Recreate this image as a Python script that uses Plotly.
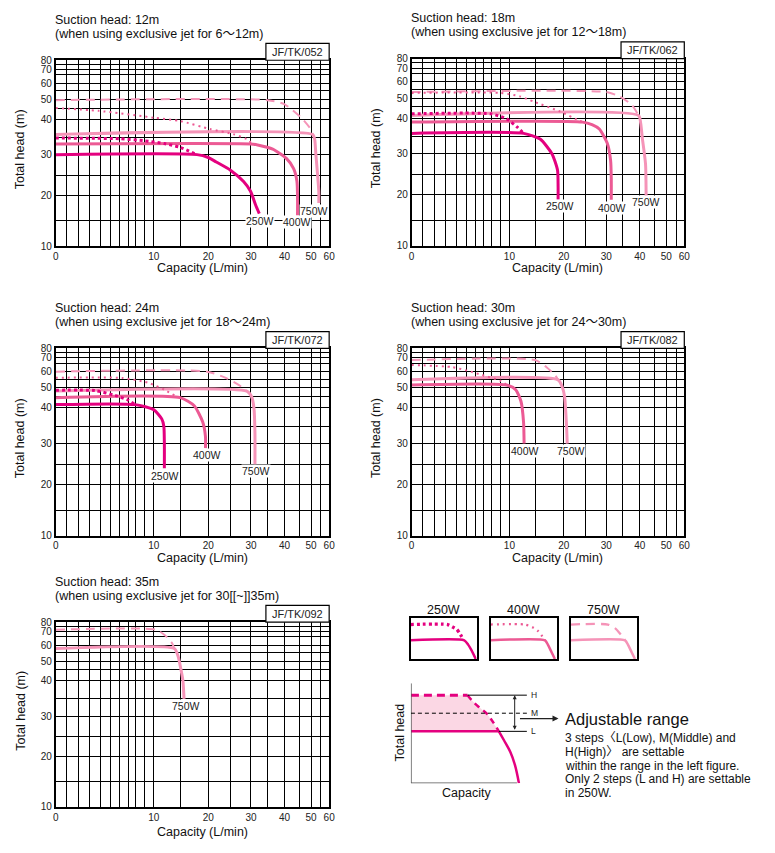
import numpy as np
import plotly.graph_objects as go

W, H = 775, 853
FONT = "Liberation Sans, Arial, Noto Sans CJK JP, sans-serif"

# ---------- axis scales (value -> fraction of plot box) ----------
X_GRID = [0, 1, 2, 3, 4, 5, 6, 7, 8, 9, 10, 15, 20, 25, 30, 35, 40, 45, 50, 55, 60]
X_FRAC = [0, .040, .085, .124, .165, .202, .233, .265, .293, .325, .359, .455, .558,
          .639, .714, .775, .837, .892, .934, .970, 1]
Y_GRID = [10, 15, 20, 25, 30, 35, 40, 45, 50, 55, 60, 65, 70, 75, 80]
Y_FRAC = [0, .137, .273, .382, .492, .585, .682, .742, .789, .835, .876, .921, .949, .977, 1]
X_TICKS = [0, 10, 20, 30, 40, 50, 60]
Y_TICKS = [10, 20, 30, 40, 50, 60, 70, 80]

C250, C400, C750 = "#E4007F", "#EC5A94", "#F594B8"

# ---------- data: capacity Q (L/min) and total head (m) ----------
# Suction head 12m
S12_250_L_Q = [0, 18, 20, 21.8, 25, 28.2, 29.9, 31.4, 32.5]
S12_250_L_H = [30, 30, 29.3, 28.2, 26.2, 23.4, 21, 18.1, 16.4]
S12_250_H_Q = [0, 6, 9, 12, 15, 18]
S12_250_H_H = [34.8, 34.6, 34, 33.2, 32.1, 30]
S12_400_L_Q = [0, 30, 32, 36.5, 40.6, 43, 44.1, 44.3, 44.3]
S12_400_L_H = [33.1, 33.1, 32.8, 31.6, 29.1, 26.6, 23.5, 20, 16]
S12_400_H_Q = [0, 3.8, 10.1, 15.1, 20.4, 25.7, 29.6, 30]
S12_400_H_H = [45.1, 43.8, 40.7, 39.5, 37.3, 35.9, 34.1, 33.1]
S12_750_L_Q = [0, 50.8, 51.8, 52.4, 53.3, 53.9, 53.9]
S12_750_L_H = [35.8, 35.8, 34.5, 30.2, 25, 21, 18.5]
S12_750_H_Q = [0, 35, 40, 46.4, 50, 50.8]
S12_750_H_H = [49.6, 49.6, 47.2, 40, 37.1, 35.8]
# Suction head 18m
S18_250_L_Q = [0, 12.7, 15.8, 17.9, 18.9, 19, 19]
S18_250_L_H = [35.8, 35.8, 34.2, 30, 26, 22, 19]
S18_250_H_Q = [0, 7.9, 9.7, 11.5, 12.7]
S18_250_H_H = [41.9, 41.9, 39.8, 37.5, 35.8]
S18_400_L_Q = [0, 24.3, 26.5, 28.3, 30.3, 31.3, 31.5, 31.5]
S18_400_L_H = [38.9, 38.9, 38.2, 37, 33, 28.4, 24, 19]
S18_400_H_Q = [0, 9, 12, 14.6, 19.3, 23.5, 24.3]
S18_400_H_H = [53, 53, 51, 48, 43, 39.3, 38.9]
S18_750_L_Q = [0, 39.6, 40.3, 40.8, 41.9, 42.1]
S18_750_L_H = [41.2, 41.2, 38.5, 34.7, 27.5, 19]
S18_750_H_Q = [0, 30, 33.9, 37.7, 39.6]
S18_750_H_H = [53.5, 53.5, 51, 46, 41.2]
# Suction head 24m
S24_250_L_Q = [0, 7.9, 10, 11.5, 11.9, 12, 12]
S24_250_L_H = [41.5, 41.5, 39.5, 37, 35, 30, 24]
S24_250_H_Q = [0, 3.5, 5.5, 7, 7.9]
S24_250_H_H = [48.7, 48.5, 45.7, 43.5, 41.5]
S24_400_L_Q = [0, 15, 17.5, 19, 19.5, 19.5]
S24_400_L_H = [44.6, 44.6, 41, 36.2, 32, 28.9]
S24_400_H_Q = [0, 6.3, 9.4, 12, 14, 15]
S24_400_H_H = [56, 55.9, 53, 49, 45.6, 44.6]
S24_750_L_Q = [0, 29, 30.2, 30.9, 31.2, 31.2]
S24_750_L_H = [48.2, 48.2, 45, 40, 33, 25]
S24_750_H_Q = [0, 19.8, 24.3, 27.5, 29]
S24_750_H_H = [60, 60, 55.5, 51, 48.2]
# Suction head 30m
S30_400_L_Q = [0, 9.7, 11.2, 12.2, 12.7, 12.8]
S30_400_L_H = [51.7, 51.7, 49, 43, 36, 30]
S30_400_H_Q = [0, 3.6, 5.5, 6.7, 9, 9.7]
S30_400_H_H = [64, 62.7, 60, 58, 54.2, 51.7]
S30_750_L_Q = [0, 19, 19.8, 20.2, 20.6, 20.8]
S30_750_L_H = [54.7, 54.7, 50, 45, 36, 30]
S30_750_H_Q = [0, 14.9, 17, 18.5, 19]
S30_750_H_H = [68, 68, 62.5, 57.5, 54.7]
# Suction head 35m
S35_750_L_Q = [0, 13.9, 14.6, 15.1, 15.5, 15.7]
S35_750_L_H = [57.7, 57.7, 53, 46, 40, 35]
S35_750_H_Q = [0, 10.4, 12.1, 13.5, 13.9]
S35_750_H_H = [71.8, 71.8, 66.5, 61, 57.7]

# legend swatches (normalised box units)
LEG250_H_X = [0, 0.56, 0.64, 0.70, 0.74, 0.77, 0.80]
LEG250_H_Y = [0.84, 0.84, 0.776, 0.72, 0.632, 0.552, 0.472]
LEG250_L_X = [0, 0.812, 0.87, 0.92, 0.985]
LEG250_L_Y = [0.456, 0.456, 0.35, 0.216, 0]
LEG400_H_X = [0, 0.52, 0.644, 0.718, 0.777, 0.817]
LEG400_H_Y = [0.84, 0.84, 0.76, 0.672, 0.552, 0.456]
LEG400_L_X = [0, 0.817, 0.86, 0.901, 0.965]
LEG400_L_Y = [0.456, 0.456, 0.35, 0.216, 0]
LEG750_H_X = [0, 0.56, 0.678, 0.75, 0.817]
LEG750_H_Y = [0.84, 0.84, 0.736, 0.6, 0.456]
LEG750_L_X = [0, 0.817, 0.86, 0.901, 0.965]
LEG750_L_Y = [0.456, 0.456, 0.35, 0.216, 0]

# adjustable-range schematic
DIAG_CURVE_X = [57.3, 62.3, 69, 77.3, 89, 94.3, 100.6, 105.3, 109.3]
DIAG_CURVE_Y = [89.3, 83.3, 77, 70, 52.6, 43.3, 31.6, 18.3, 0]
DIAG_H, DIAG_M, DIAG_L = 89.3, 71, 52.6

STYLE = {
    "L": dict(width=3, dash="solid"),
    "H250": dict(width=3, dash="3px,3px"),
    "H400": dict(width=2, dash="2px,4px"),
    "H750": dict(width=2, dash="9px,6px"),
}

PANELS = [
    dict(idx=1, box=(53.3, 55, 330, 243.5), xlab_dy=22,
         title=("Suction head: 12m", "(when using exclusive jet for 6～12m)"), model="JF/TK/052",
         series=[(S12_750_H_Q, S12_750_H_H, C750, "H750"), (S12_750_L_Q, S12_750_L_H, C750, "L"),
                 (S12_400_H_Q, S12_400_H_H, C400, "H400"), (S12_400_L_Q, S12_400_L_H, C400, "L"),
                 (S12_250_H_Q, S12_250_H_H, C250, "H250"), (S12_250_L_Q, S12_250_L_H, C250, "L")],
         labels=[("250W", 260, 218), ("400W", 297, 219.5), ("750W", 315, 207.5)]),
    dict(idx=2, box=(413.3, 53.3, 689.3, 243.3), xlab_dy=22,
         title=("Suction head: 18m", "(when using exclusive jet for 12～18m)"), model="JF/TK/062",
         series=[(S18_750_H_Q, S18_750_H_H, C750, "H750"), (S18_750_L_Q, S18_750_L_H, C750, "L"),
                 (S18_400_H_Q, S18_400_H_H, C400, "H400"), (S18_400_L_Q, S18_400_L_H, C400, "L"),
                 (S18_250_H_Q, S18_250_H_H, C250, "H250"), (S18_250_L_Q, S18_250_L_H, C250, "L")],
         labels=[("250W", 564, 203), ("400W", 616, 205), ("750W", 651, 199)]),
    dict(idx=3, box=(53.3, 347.3, 330, 537.3), xlab_dy=22.5,
         title=("Suction head: 24m", "(when using exclusive jet for 18～24m)"), model="JF/TK/072",
         series=[(S24_750_H_Q, S24_750_H_H, C750, "H750"), (S24_750_L_Q, S24_750_L_H, C750, "L"),
                 (S24_400_H_Q, S24_400_H_H, C400, "H400"), (S24_400_L_Q, S24_400_L_H, C400, "L"),
                 (S24_250_H_Q, S24_250_H_H, C250, "H250"), (S24_250_L_Q, S24_250_L_H, C250, "L")],
         labels=[("250W", 164, 477), ("400W", 206, 455), ("750W", 256, 472)]),
    dict(idx=4, box=(413.3, 347.3, 689.3, 537.3), xlab_dy=22.5,
         title=("Suction head: 30m", "(when using exclusive jet for 24～30m)"), model="JF/TK/082",
         series=[(S30_750_H_Q, S30_750_H_H, C750, "H750"), (S30_750_L_Q, S30_750_L_H, C750, "L"),
                 (S30_400_H_Q, S30_400_H_H, C400, "H400"), (S30_400_L_Q, S30_400_L_H, C400, "L")],
         labels=[("400W", 528, 451), ("750W", 575, 451)]),
    dict(idx=5, box=(53.3, 625, 330, 812.3), xlab_dy=25,
         title=("Suction head: 35m", "(when using exclusive jet for 30[[~]]35m)"), model="JF/TK/092",
         series=[(S35_750_H_Q, S35_750_H_H, C750, "H750"), (S35_750_L_Q, S35_750_L_H, C750, "L")],
         labels=[("750W", 185, 710)]),
]


def fx(q):
    return np.interp(q, X_GRID, X_FRAC)


def fy(h):
    return np.interp(h, Y_GRID, Y_FRAC)


def dom_x(a, b):
    return [a / W, b / W]


def dom_y(top, bottom):
    return [1 - bottom / H, 1 - top / H]


def px(x):
    return x / W


def py(y):
    return 1 - y / H


def ax_names(i):
    s = "" if i == 1 else str(i)
    return "xaxis" + s, "yaxis" + s, "x" + s, "y" + s


fig = go.Figure()
layout = {}
annotations = []
shapes = []

GRID = dict(showgrid=True, gridcolor="black", gridwidth=1.2, showline=True, mirror=True,
            linecolor="black", linewidth=1.5, zeroline=False, ticks="", fixedrange=True,
            tickfont=dict(size=10, color="#222", family=FONT))

for p in PANELS:
    i = p["idx"]
    l, t, r, b = p["box"]
    xa, ya, xr, yr = ax_names(i)
    layout[xa] = dict(domain=dom_x(l, r), range=[0, 1], anchor=yr,
                      tickvals=list(fx(X_GRID)),
                      ticktext=[str(v) if v in X_TICKS else "" for v in X_GRID], **GRID)
    layout[ya] = dict(domain=dom_y(t, b), range=[0, 1], anchor=xr,
                      tickvals=list(fy(Y_GRID)),
                      ticktext=[str(v) if v in Y_TICKS else "" for v in Y_GRID], **GRID)
    for q, h, col, st in p["series"]:
        s = STYLE[st]
        fig.add_trace(go.Scatter(x=fx(q), y=fy(h), xaxis=xr, yaxis=yr, mode="lines",
                                 line=dict(color=col, width=s["width"], dash=s["dash"],
                                           shape="spline", smoothing=0.6),
                                 hoverinfo="skip", showlegend=False))
    for txt, lx, ly in p["labels"]:
        annotations.append(dict(text=txt, x=px(lx), y=py(ly), xref="paper", yref="paper",
                                showarrow=False, font=dict(size=10.5, color="#222", family=FONT),
                                bgcolor="white", borderpad=0, xanchor="center", yanchor="middle"))
    # titles
    annotations.append(dict(text=p["title"][0], x=px(l - 2.6), y=py(t - 41), xref="paper", yref="paper",
                            showarrow=False, xanchor="left", yanchor="middle",
                            font=dict(size=12.5, color="#111", family=FONT)))
    annotations.append(dict(text=p["title"][1], x=px(l - 2.6), y=py(t - 27), xref="paper", yref="paper",
                            showarrow=False, xanchor="left", yanchor="middle",
                            font=dict(size=12.5, color="#111", family=FONT)))
    # model box
    shapes.append(dict(type="rect", xref="paper", yref="paper", x0=px(r - 64), x1=px(r),
                       y0=py(t), y1=py(t - 17), line=dict(color="black", width=1.2),
                       fillcolor="white"))
    annotations.append(dict(text=p["model"], x=px(r - 32), y=py(t - 8.5), xref="paper", yref="paper",
                            showarrow=False, xanchor="center", yanchor="middle",
                            font=dict(size=11, color="#222", family=FONT)))
    # axis titles
    annotations.append(dict(text="Capacity (L/min)", x=px((l + r) / 2 + 10), y=py(b + p["xlab_dy"]),
                            xref="paper", yref="paper", showarrow=False, xanchor="center",
                            yanchor="middle", font=dict(size=12.5, color="#111", family=FONT)))
    annotations.append(dict(text="Total head (m)", x=px(l - 36), y=py((t + b) / 2 - 4),
                            xref="paper", yref="paper", showarrow=False, textangle=-90,
                            xanchor="center", yanchor="middle",
                            font=dict(size=12.5, color="#111", family=FONT)))

# ---------- legend swatches ----------
LEG_BOXES = [
    (6, (412.3, 620.7, 479.3, 662.3), "250W", C250, (LEG250_H_X, LEG250_H_Y, "H250"), (LEG250_L_X, LEG250_L_Y)),
    (7, (493.3, 620.7, 560.7, 662.3), "400W", C400, (LEG400_H_X, LEG400_H_Y, "H400"), (LEG400_L_X, LEG400_L_Y)),
    (8, (574.3, 620.7, 641.7, 662.3), "750W", C750, (LEG750_H_X, LEG750_H_Y, "H750"), (LEG750_L_X, LEG750_L_Y)),
]
for i, (l, t, r, b), name, col, hser, lser in LEG_BOXES:
    xa, ya, xr, yr = ax_names(i)
    common = dict(range=[0, 1], showgrid=False, zeroline=False, showticklabels=False, ticks="",
                  showline=True, mirror=True, linecolor="black", linewidth=1.5, fixedrange=True)
    layout[xa] = dict(domain=dom_x(l, r), anchor=yr, **common)
    layout[ya] = dict(domain=dom_y(t, b), anchor=xr, **common)
    s = STYLE[hser[2]]
    fig.add_trace(go.Scatter(x=hser[0], y=hser[1], xaxis=xr, yaxis=yr, mode="lines",
                             line=dict(color=col, width=s["width"] + 0.3, dash=s["dash"], shape="spline",
                                       smoothing=0.6), hoverinfo="skip", showlegend=False))
    fig.add_trace(go.Scatter(x=lser[0], y=lser[1], xaxis=xr, yaxis=yr, mode="lines",
                             line=dict(color=col, width=2.5, shape="spline", smoothing=0.6),
                             hoverinfo="skip", showlegend=False))
    annotations.append(dict(text=name, x=px((l + r) / 2), y=py(t - 8), xref="paper", yref="paper",
                            showarrow=False, xanchor="center", yanchor="middle",
                            font=dict(size=12.5, color="#111", family=FONT)))

# ---------- adjustable range schematic ----------
xa, ya, xr, yr = ax_names(9)
hidden = dict(showgrid=False, zeroline=False, showticklabels=False, ticks="", showline=False,
              fixedrange=True)
layout[xa] = dict(domain=dom_x(412.7, 540), range=[0, 127.3], anchor=yr, **hidden)
layout[ya] = dict(domain=dom_y(687, 788.3), range=[0, 101.3], anchor=xr, **hidden)

k = DIAG_CURVE_Y.index(DIAG_L)
fill_x = [0] + DIAG_CURVE_X[:k + 1] + [0]
fill_y = [DIAG_H] + DIAG_CURVE_Y[:k + 1] + [DIAG_L]
fig.add_trace(go.Scatter(x=fill_x, y=fill_y, xaxis=xr, yaxis=yr, mode="lines", fill="toself",
                         fillcolor="#FBD7E4", line=dict(width=0), hoverinfo="skip", showlegend=False))
# axes of schematic
shapes.append(dict(type="line", xref=xr, yref=yr, x0=0, x1=0, y0=0, y1=101.3,
                   line=dict(color="#555", width=1.5)))
shapes.append(dict(type="line", xref=xr, yref=yr, x0=0, x1=107.3, y0=0, y1=0,
                   line=dict(color="#555", width=1.5)))
# reference lines
shapes.append(dict(type="line", xref=xr, yref=yr, x0=DIAG_CURVE_X[0], x1=117.3, y0=DIAG_H, y1=DIAG_H,
                   line=dict(color="black", width=1)))
shapes.append(dict(type="line", xref=xr, yref=yr, x0=0, x1=117.3, y0=DIAG_M, y1=DIAG_M,
                   line=dict(color="black", width=1, dash="4px,3px")))
shapes.append(dict(type="line", xref=xr, yref=yr, x0=DIAG_CURVE_X[k], x1=117.3, y0=DIAG_L, y1=DIAG_L,
                   line=dict(color="black", width=1)))
fig.add_trace(go.Scatter(x=[0, DIAG_CURVE_X[0]], y=[DIAG_H, DIAG_H], xaxis=xr, yaxis=yr, mode="lines",
                         line=dict(color=C250, width=3, dash="8px,5px"), hoverinfo="skip",
                         showlegend=False))
fig.add_trace(go.Scatter(x=DIAG_CURVE_X[:k + 1], y=DIAG_CURVE_Y[:k + 1], xaxis=xr, yaxis=yr,
                         mode="lines", line=dict(color=C250, width=2.5, dash="6px,5px", shape="spline"),
                         hoverinfo="skip", showlegend=False))
fig.add_trace(go.Scatter(x=[0, DIAG_CURVE_X[k]], y=[DIAG_L, DIAG_L], xaxis=xr, yaxis=yr, mode="lines",
                         line=dict(color=C250, width=2.5), hoverinfo="skip", showlegend=False))
fig.add_trace(go.Scatter(x=DIAG_CURVE_X[k:], y=DIAG_CURVE_Y[k:], xaxis=xr, yaxis=yr, mode="lines",
                         line=dict(color=C250, width=2.5, shape="spline"), hoverinfo="skip",
                         showlegend=False))
for lab, lev in (("H", DIAG_H), ("M", DIAG_M), ("L", DIAG_L)):
    annotations.append(dict(text=lab, x=119, y=lev, xref=xr, yref=yr, showarrow=False,
                            xanchor="left", yanchor="middle", font=dict(size=8.5, color="#222", family=FONT)))
# double arrow between L and H
annotations.append(dict(x=105, y=DIAG_H, ax=105, ay=DIAG_L, xref=xr, yref=yr, axref=xr, ayref=yr,
                        showarrow=True, arrowhead=2, arrowside="end+start", arrowsize=0.8,
                        arrowwidth=1, arrowcolor="#222", text=""))
# pointer arrow
annotations.append(dict(x=px(562), y=py(722.7), ax=-40, ay=0, xref="paper", yref="paper",
                        axref="pixel", ayref="pixel", showarrow=True, arrowhead=2, arrowsize=1,
                        arrowwidth=1.2, arrowcolor="#222", text=""))
annotations.append(dict(text="Adjustable range", x=px(566.5), y=py(723), xref="paper", yref="paper",
                        showarrow=False, xanchor="left", yanchor="middle",
                        font=dict(size=16.5, color="#111", family=FONT)))
DESC = ["3 steps〈L(Low), M(Middle) and", "H(High)〉 are settable",
        "within the range in the left figure.", "Only 2 steps (L and H) are settable", "in 250W."]
for j, line in enumerate(DESC):
    annotations.append(dict(text=line, x=px(566.5), y=py(742.5 + 14 * j), xref="paper", yref="paper",
                            showarrow=False, xanchor="left", yanchor="middle",
                            font=dict(size=12, color="#111", family=FONT)))
annotations.append(dict(text="Total head", x=px(401.5), y=py(737), xref="paper", yref="paper",
                        showarrow=False, textangle=-90, xanchor="center", yanchor="middle",
                        font=dict(size=12.5, color="#111", family=FONT)))
annotations.append(dict(text="Capacity", x=px(469), y=py(798.5), xref="paper", yref="paper",
                        showarrow=False, xanchor="center", yanchor="middle",
                        font=dict(size=12.5, color="#111", family=FONT)))

fig.update_layout(width=W, height=H, margin=dict(l=0, r=0, t=0, b=0), paper_bgcolor="white",
                  plot_bgcolor="white", showlegend=False, annotations=annotations, shapes=shapes,
                  font=dict(family=FONT), **layout)
fig.write_html("out.html", config={"displayModeBar": False},
               post_script="document.body.style.margin='0px';document.body.style.padding='0px';"
                           "document.body.style.overflow='hidden';")
